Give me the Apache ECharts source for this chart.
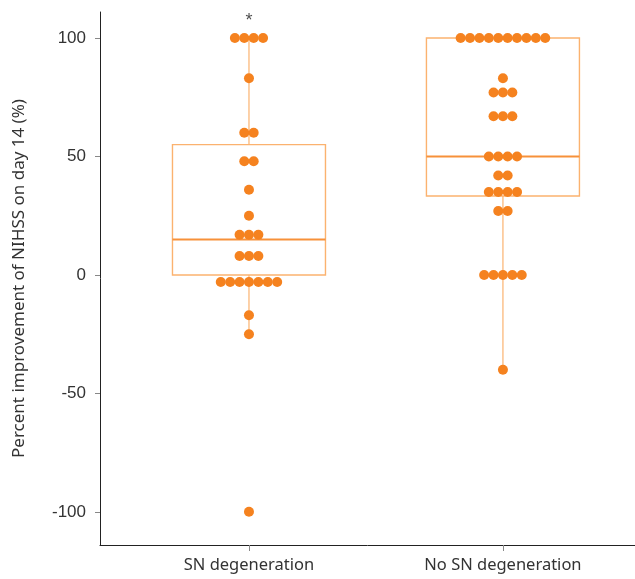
<!DOCTYPE html>
<html>
<head>
<meta charset="utf-8">
<script src="https://cdn.jsdelivr.net/npm/echarts@6/dist/echarts.min.js"></script>
<style>html,body{margin:0;padding:0;background:#fff}#c{width:635px;height:579px}</style>
</head>
<body>
<div id="c"></div>
<script>
// ---- data ----
const categories = ['SN degeneration', 'No SN degeneration'];
const snValues = [100,100,100,100, 83, 60,60, 48,48, 36, 25, 17,17,17, 8,8,8,
  -3,-3,-3,-3,-3,-3,-3, -17, -25, -100];
const noSnValues = [100,100,100,100,100,100,100,100,100,100, 83, 77,77,77, 67,67,67,
  50,50,50,50, 42,42, 35,35,35,35, 27,27, 0,0,0,0,0, -40];
// box stats: [low whisker, Q1, median, Q3, high whisker]
const snBox = [-25, 0, 15, 55, 100];
const noSnBox = [-40, 33.3, 50, 100, 100];
const yTicks = [-100, -50, 0, 50, 100];
const annotation = ['*'];

// ---- layout constants ----
const X_MIN = 0.4134, X_MAX = 2.52;
const PX_PER_UNIT = 535 / (X_MAX - X_MIN);
const DOT_SPACING = 9.4 / PX_PER_UNIT;

function swarm(values, xc) {
  const counts = {};
  values.forEach(v => counts[v] = (counts[v] || 0) + 1);
  const seen = {};
  return values.map(v => {
    const n = counts[v];
    const i = seen[v] = (seen[v] === undefined ? 0 : seen[v] + 1);
    return [xc + (i - (n - 1) / 2) * DOT_SPACING, v];
  });
}

const dots = swarm(snValues, 1).concat(swarm(noSnValues, 2));
const boxData = [[1].concat(snBox), [2].concat(noSnBox)];

const chart = echarts.init(document.getElementById('c'), null, {renderer: 'canvas'});
chart.setOption({
  animation: false,
  grid: {left: 100, right: 0, top: 12, bottom: 34, outerBoundsMode: 'none'},
  xAxis: {
    type: 'value', min: X_MIN, max: X_MAX,
    splitLine: {show: false},
    axisLine: {onZero: false, lineStyle: {color: '#222', width: 1}},
    axisTick: {customValues: [1, 2], length: 6, lineStyle: {color: '#888'}},
    axisLabel: {
      customValues: [1, 2], margin: 12,
      formatter: v => categories[Math.round(v) - 1],
      fontFamily: 'Noto Sans', fontSize: 16.5, color: '#333'
    }
  },
  yAxis: {
    type: 'value', min: -114, max: 111,
    splitLine: {show: false},
    axisLine: {show: true, onZero: false, lineStyle: {color: '#222', width: 1}},
    axisTick: {show: true, customValues: yTicks, length: 5, lineStyle: {color: '#888'}},
    axisLabel: {customValues: yTicks, margin: 14, fontFamily: 'Liberation Sans', fontSize: 17, color: '#333'},
    name: 'Percent improvement of NIHSS on day 14 (%)',
    nameLocation: 'middle', nameGap: 72, nameRotate: 90,
    nameTextStyle: {fontFamily: 'Noto Sans', fontSize: 17, color: '#333'}
  },
  series: [
    {
      type: 'custom', z: 1,
      data: boxData,
      renderItem: function (params, api) {
        const x = api.value(0);
        const low = api.coord([x, api.value(1)]);
        const q1 = api.coord([x, api.value(2)]);
        const med = api.coord([x, api.value(3)]);
        const q3 = api.coord([x, api.value(4)]);
        const high = api.coord([x, api.value(5)]);
        const hw = 76.5;
        const light = '#FBB26F';
        return {
          type: 'group',
          children: [
            {type: 'line', shape: {x1: low[0], y1: low[1], x2: q1[0], y2: q1[1]}, style: {stroke: light, lineWidth: 1.2}},
            {type: 'line', shape: {x1: q3[0], y1: q3[1], x2: high[0], y2: high[1]}, style: {stroke: light, lineWidth: 1.2}},
            {type: 'rect', shape: {x: q1[0] - hw, y: q3[1], width: hw * 2, height: q1[1] - q3[1]}, style: {fill: 'none', stroke: light, lineWidth: 1.4}},
            {type: 'line', shape: {x1: med[0] - hw, y1: med[1], x2: med[0] + hw, y2: med[1]}, style: {stroke: '#F7913A', lineWidth: 2}}
          ]
        };
      }
    },
    {
      type: 'scatter', z: 2,
      data: dots,
      symbolSize: 10,
      itemStyle: {color: '#F5821F', opacity: 1}
    },
    {
      type: 'scatter', z: 3,
      data: [[1, 107]],
      symbolSize: 0,
      label: {show: true, position: 'inside', formatter: annotation[0], fontSize: 18, color: '#222', fontFamily: 'Liberation Sans'}
    }
  ]
});
</script>
</body>
</html>
